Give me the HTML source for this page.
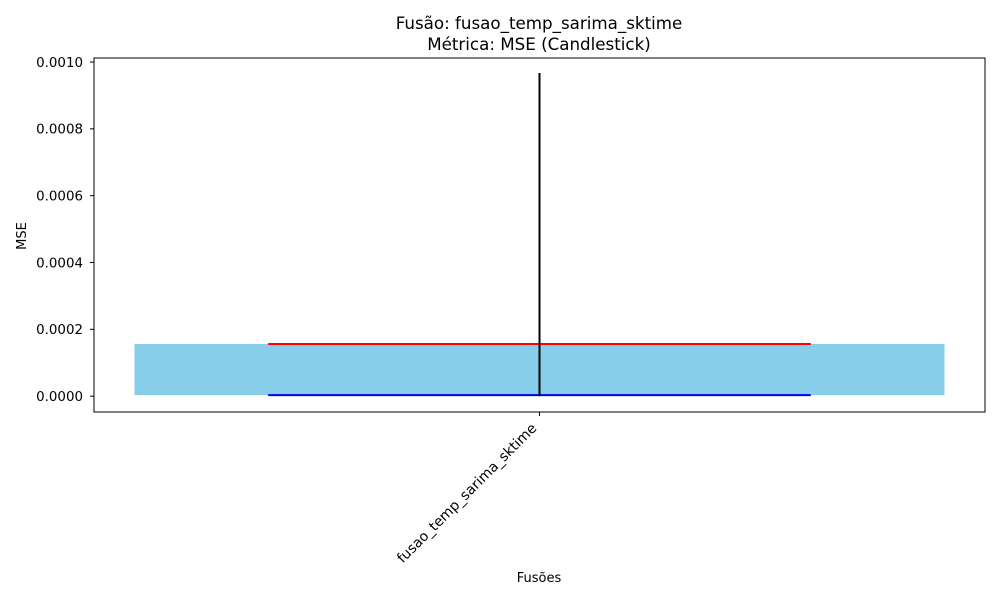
<!DOCTYPE html>
<html><head><meta charset="utf-8"><style>
body{margin:0;background:#fff;}
svg{display:block;font-family:"DejaVu Sans","Liberation Sans",sans-serif;}
</style></head><body>
<svg id="chart" width="1000" height="600">
<text x="539" y="29" font-size="16.7" text-anchor="middle">Fusão: fusao_temp_sarima_sktime</text>
<text x="539" y="50" font-size="16.7" text-anchor="middle">Métrica: MSE (Candlestick)</text>
<g id="marks"></g>
<g id="yticks"></g>
<g id="xticks"></g>
<rect x="94" y="58" width="891" height="354" fill="none" stroke="#000" stroke-width="1"/>
<text x="26" y="236" font-size="13" text-anchor="middle" transform="rotate(-90 26 236)">MSE</text>
<text x="539" y="582" font-size="13" text-anchor="middle">Fusões</text>
</svg>
<script>
const categories = ["fusao_temp_sarima_sktime"];
const openVals = [0.000003];
const closeVals = [0.000156];
const highVals = [0.000967];
const lowVals = [0.0000];
const yTicks = [0, 0.0002, 0.0004, 0.0006, 0.0008, 0.0010];
const yTickLabels = ["0.0000","0.0002","0.0004","0.0006","0.0008","0.0010"];

const NS = "http://www.w3.org/2000/svg";
const px0 = 94, px1 = 985;
const xMin = -0.44, xMax = 0.44;
const yMin = -0.0000475, yMax = 0.001012;
function xs(v){return px0 + (v - xMin)/(xMax - xMin)*(px1 - px0);}
function ys(v){return 412 - (v - yMin)/(yMax - yMin)*354;}
function mk(tag, attrs){const e=document.createElementNS(NS,tag);for(const k in attrs)e.setAttribute(k,attrs[k]);return e;}
const marks=document.getElementById('marks');
categories.forEach((c,i)=>{
  const o=openVals[i], cl=closeVals[i];
  const top=Math.max(o,cl), bot=Math.min(o,cl);
  const b=mk('rect',{x:xs(i-0.4),y:ys(top),width:xs(i+0.4)-xs(i-0.4),height:ys(bot)-ys(top),fill:'#87ceeb'});
  
  
  marks.appendChild(b);
  const r=mk('line',{x1:xs(i-0.268),x2:xs(i+0.268),y1:ys(cl),y2:ys(cl),stroke:'red','stroke-width':2});
  
  
  marks.appendChild(r);
  const bl=mk('line',{x1:xs(i-0.268),x2:xs(i+0.268),y1:ys(o),y2:ys(o),stroke:'blue','stroke-width':2});
  
  
  marks.appendChild(bl);
  const w=mk('line',{x1:xs(i),x2:xs(i),y1:ys(highVals[i]),y2:ys(lowVals[i]),stroke:'#000','stroke-width':2});
  
  
  marks.appendChild(w);
  const xt=document.getElementById('xticks');
  xt.appendChild(mk('line',{x1:xs(i),x2:xs(i),y1:412,y2:416,stroke:'#000'}));
  const t=mk('text',{x:xs(i)-2,y:429,'font-size':14,'text-anchor':'end',transform:`rotate(-45 ${xs(i)-2} 429)`});
  
  
  t.textContent=c; xt.appendChild(t);
});
const yt=document.getElementById('yticks');
yTicks.forEach((v,i)=>{
  const y=ys(v);
  yt.appendChild(mk('line',{x1:90,x2:94,y1:y,y2:y,stroke:'#000'}));
  const t=mk('text',{x:83,y:y+4.8,'font-size':13.4,'text-anchor':'end'});
  
  
  t.textContent=yTickLabels[i]; yt.appendChild(t);
});
</script>
</body></html>
